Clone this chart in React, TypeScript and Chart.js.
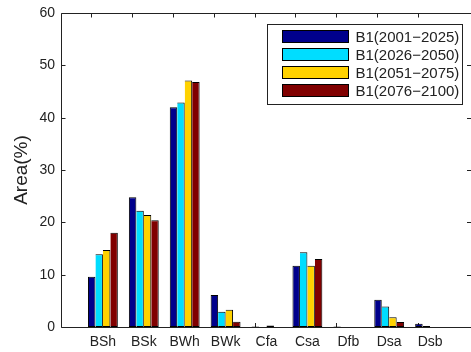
import { useEffect, useRef } from 'react';
import { Chart, registerables } from 'chart.js';

Chart.register(...registerables);

const categories = ['BSh', 'BSk', 'BWh', 'BWk', 'Cfa', 'Csa', 'Dfb', 'Dsa', 'Dsb'];
const seriesLabels = ['B1(2001−2025)', 'B1(2026−2050)', 'B1(2051−2075)', 'B1(2076−2100)'];
const b1_2001_2025 = [9.6, 24.8, 42.0, 6.1, 0.1, 11.7, 0.1, 5.2, 0.6];
const b1_2026_2050 = [13.9, 22.2, 42.9, 2.9, 0, 14.3, 0, 3.9, 0.2];
const b1_2051_2075 = [14.7, 21.4, 47.1, 3.3, 0.3, 11.7, 0, 1.85, 0];
const b1_2076_2100 = [18.0, 20.4, 46.8, 1.0, 0, 13.0, 0, 0.95, 0];
const yTicks = [0, 10, 20, 30, 40, 50, 60];

const seriesValues = [b1_2001_2025, b1_2026_2050, b1_2051_2075, b1_2076_2100];
const colors = ['#00008C', '#00DDFF', '#FFD200', '#800000'];
const AXIS = '#222222';
const FONT = "'Liberation Sans', Arial, Helvetica, sans-serif";
const TICK_SHIFT = -12; // box ticks in the reference are drawn slightly left of category centres

const axesPlugin = {
  id: 'matlabAxes',
  beforeDatasetsDraw(chart: any) {
    const { ctx, chartArea, scales } = chart;
    const x = scales.x;
    const bottom = Math.round(chartArea.bottom);
    ctx.save();
    ctx.strokeStyle = AXIS;
    ctx.lineWidth = 1;
    ctx.beginPath();
    categories.forEach((_, i) => {
      const px = Math.round(x.getPixelForValue(i + 1) + TICK_SHIFT) + 0.5;
      ctx.moveTo(px, bottom);
      ctx.lineTo(px, bottom - 4);
    });
    ctx.stroke();
    ctx.restore();
  },
  afterDatasetsDraw(chart: any) {
    const { ctx, chartArea, scales } = chart;
    const x = scales.x;
    const y = scales.y;
    const left = Math.round(chartArea.left) - 0.5;
    const right = chartArea.right;
    const top = Math.round(chartArea.top) + 0.5;
    const bottom = Math.round(chartArea.bottom) + 0.5;
    ctx.save();
    ctx.strokeStyle = AXIS;
    ctx.lineWidth = 1;
    ctx.beginPath();
    ctx.moveTo(left, top);
    ctx.lineTo(right, top);
    ctx.moveTo(left, top);
    ctx.lineTo(left, bottom);
    ctx.lineTo(right, bottom);
    yTicks.forEach((v) => {
      const py = Math.round(y.getPixelForValue(v)) + 0.5;
      ctx.moveTo(left, py);
      ctx.lineTo(left + 4, py);
      ctx.moveTo(right - 4, py);
      ctx.lineTo(right, py);
    });
    categories.forEach((_, i) => {
      const px = Math.round(x.getPixelForValue(i + 1) + TICK_SHIFT) + 0.5;
      ctx.moveTo(px, top);
      ctx.lineTo(px, top + 4);
    });
    ctx.stroke();
    ctx.restore();
  },
  afterDraw(chart: any) {
    const { ctx, chartArea } = chart;
    const bx = Math.round(chartArea.right) - 203.5;
    const by = Math.round(chartArea.top) + 11.5;
    const bw = 195;
    const bh = 80;
    ctx.save();
    ctx.fillStyle = '#ffffff';
    ctx.fillRect(bx, by, bw, bh);
    ctx.strokeStyle = AXIS;
    ctx.lineWidth = 1;
    ctx.strokeRect(bx, by, bw, bh);
    ctx.font = `15px ${FONT}`;
    ctx.textBaseline = 'middle';
    ctx.textAlign = 'left';
    chart.data.datasets.forEach((ds: any, i: number) => {
      const cy = by + 12 + 18 * i;
      ctx.fillStyle = ds.backgroundColor;
      ctx.fillRect(bx + 15, cy - 6, 66, 12);
      ctx.strokeStyle = '#000';
      ctx.strokeRect(bx + 15, cy - 6, 66, 12);
      ctx.fillStyle = AXIS;
      ctx.fillText(ds.label, bx + 88, cy + 1);
    });
    ctx.restore();
  },
};

export default function App() {
  const ref = useRef<HTMLCanvasElement | null>(null);

  useEffect(() => {
    if (!ref.current) return;
    Chart.defaults.font.family = FONT;
    const datasets = seriesValues.map((vals, s) => ({
      label: seriesLabels[s],
      data: vals.map((v, i) => ({ x: i + 1, y: v })),
      backgroundColor: colors[s],
      borderColor: '#000000',
      borderWidth: s === 0 ? 1 : { left: 0, right: 1, top: 1, bottom: 1 },
      borderSkipped: false as const,
      categoryPercentage: 0.73,
      barPercentage: 1,
    }));
    const chart = new Chart(ref.current, {
      type: 'bar',
      data: { datasets },
      plugins: [axesPlugin],
      options: {
        responsive: false,
        animation: false,
        devicePixelRatio: 1,
        layout: { padding: { top: 13, right: 0, bottom: 0, left: 0 } },
        plugins: { legend: { display: false }, tooltip: { enabled: false } },
        scales: {
          x: {
            type: 'linear',
            min: 0,
            max: 10,
            offset: false,
            grid: { display: false, drawTicks: false, offset: false },
            border: { display: false },
            ticks: {
              stepSize: 1,
              autoSkip: false,
              maxRotation: 0,
              padding: 7,
              color: AXIS,
              font: { size: 14, family: FONT },
              callback: (v: any) => {
                const i = Number(v) - 1;
                return i >= 0 && i < categories.length ? categories[i] : '';
              },
            },
            afterFit: (scale: any) => {
              scale.height = 25;
              scale.paddingLeft = 0;
              scale.paddingRight = 0;
            },
          },
          y: {
            min: 0,
            max: 60,
            grid: { display: false, drawTicks: false },
            border: { display: false },
            ticks: {
              stepSize: 10,
              padding: 7,
              color: AXIS,
              font: { size: 14, family: FONT },
            },
            title: {
              display: true,
              text: 'Area(%)',
              color: AXIS,
              font: { size: 19, family: FONT },
              padding: { top: 10, bottom: 0 },
            },
            afterFit: (scale: any) => {
              scale.width = 62;
              scale.paddingTop = 0;
              scale.paddingBottom = 0;
            },
          },
        },
      },
    });
    return () => chart.destroy();
  }, []);

  return (
    <div style={{ position: 'fixed', left: 0, top: 0, width: 471, height: 352, background: '#fff' }}>
      <canvas ref={ref} width={471} height={352} style={{ display: 'block' }} />
    </div>
  );
}
